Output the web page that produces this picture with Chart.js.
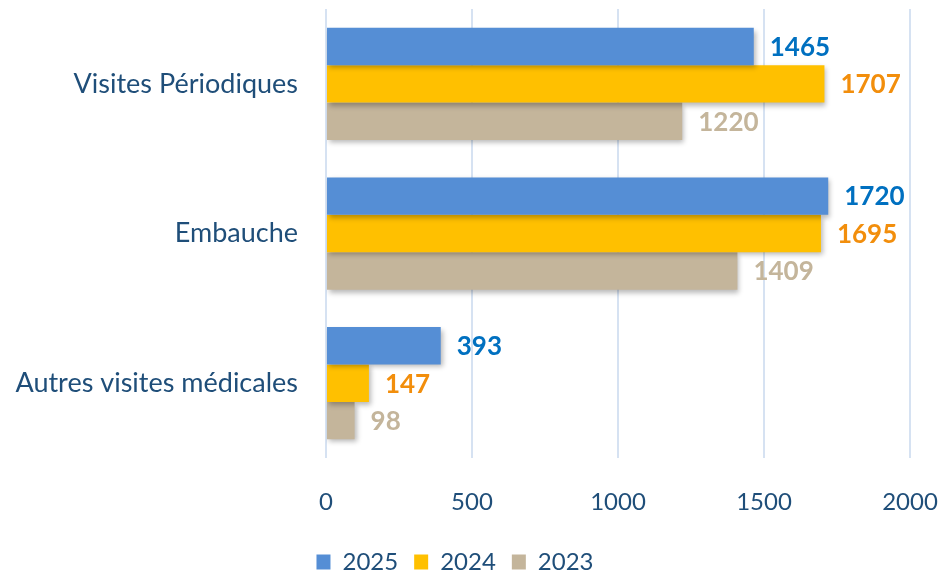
<!DOCTYPE html>
<html>
<head>
<meta charset="utf-8">
<script src="https://cdn.jsdelivr.net/npm/chart.js@4/dist/chart.umd.min.js"></script>
<style>
  html, body { margin: 0; padding: 0; background: #fff; overflow: hidden; }
  canvas { display: block; }
</style>
</head>
<body>
<canvas id="visitesChart" width="947" height="572"></canvas>
<script>
// categories and values
const categories = ["Visites Périodiques", "Embauche", "Autres visites médicales"];
const years = ["2025", "2024", "2023"];
const values2025 = [1465, 1720, 393];
const values2024 = [1707, 1695, 147];
const values2023 = [1220, 1409, 98];
const xTicks = [0, 500, 1000, 1500, 2000];

const barColors = ["#558ED5", "#FFC000", "#C4B59B"];
const labelColors = ["#0070C0", "#F28E0C", "#C4B59B"];
const textColor = "#1F4E79";

// draws the value next to the end of each bar
const valueLabels = {
    id: "valueLabels",
    afterDatasetsDraw(chart) {
        const ctx = chart.ctx;
        ctx.save();
        ctx.font = "bold 26px Lato";
        ctx.textBaseline = "middle";
        ctx.textAlign = "left";
        chart.data.datasets.forEach((ds, i) => {
            const meta = chart.getDatasetMeta(i);
            ctx.fillStyle = labelColors[i];
            meta.data.forEach((bar, j) => {
                ctx.fillText(ds.data[j], bar.x + 16, bar.y + 1);
            });
        });
        ctx.restore();
    },
};

// soft shadow under the bars
const barShadow = {
    id: "barShadow",
    beforeDatasetsDraw(chart) {
        const ctx = chart.ctx;
        ctx.save();
        ctx.shadowColor = "rgba(0,0,0,0.28)";
        ctx.shadowBlur = 5;
        ctx.shadowOffsetX = 2;
        ctx.shadowOffsetY = 3;
    },
    afterDatasetsDraw(chart) {
        chart.ctx.restore();
    },
};

const ctx = document.getElementById("visitesChart").getContext("2d");
const visitesChart = new Chart(ctx, {
    type: "bar",
    data: {
        labels: categories,
        datasets: [
            { label: years[0], data: values2025, backgroundColor: barColors[0] },
            { label: years[1], data: values2024, backgroundColor: barColors[1] },
            { label: years[2], data: values2023, backgroundColor: barColors[2] },
        ],
    },
    options: {
        indexAxis: "y",
        responsive: false,
        animation: false,
        datasets: {
            bar: { categoryPercentage: 0.75, barPercentage: 1 },
        },
        layout: {
            padding: { top: 9, right: 37, left: 0, bottom: -12 },
        },
        scales: {
            x: {
                min: 0,
                max: 2000,
                afterBuildTicks: (scale) => {
                    scale.ticks = xTicks.map((v) => ({ value: v }));
                },
                afterFit: (scale) => { scale.height = 76; },
                // invisible tick marks keep the labels away from the plot
                grid: { color: "#D6E2F2", lineWidth: 2, tickLength: 30, tickColor: "rgba(0,0,0,0)" },
                border: { display: false },
                ticks: {
                    color: textColor,
                    font: { family: "Lato", size: 24 },
                    padding: 0,
                    callback: (v) => String(v),
                },
            },
            y: {
                grid: { display: false, drawTicks: true, tickLength: 28 },
                border: { display: false },
                afterFit: (scale) => { scale.width = 326; },
                ticks: {
                    color: textColor,
                    font: { family: "Lato", size: 27, lineHeight: 0.6 },
                    padding: 0,
                },
            },
        },
        plugins: {
            legend: {
                position: "bottom",
                labels: {
                    color: textColor,
                    font: { family: "Lato", size: 24 },
                    boxWidth: 14,
                    boxHeight: 15,
                    padding: 16,
                },
            },
            tooltip: { enabled: false },
        },
    },
    plugins: [barShadow, valueLabels],
});
</script>
</body>
</html>
